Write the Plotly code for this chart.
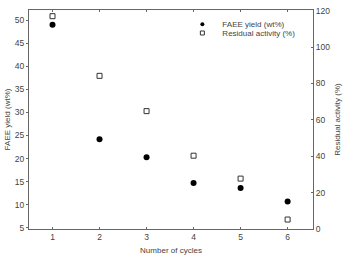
import plotly.graph_objects as go

cycles = [1, 2, 3, 4, 5, 6]
faee_yield = [49.0, 24.2, 20.3, 14.7, 13.6, 10.7]
residual_activity = [117.0, 84.2, 64.8, 40.3, 27.7, 5.2]

FAM = "Liberation Sans, Arial, sans-serif"
tickfont = dict(family=FAM, size=8.5, color="#444")
titlefont = dict(family=FAM, size=8, color="#444")
legfont = dict(family=FAM, size=8, color="#444")

fig = go.Figure()
fig.add_trace(go.Scatter(
    x=cycles, y=faee_yield, mode="markers", name="FAEE yield (wt%)",
    showlegend=False,
    marker=dict(symbol="circle", size=6, color="black"),
))
fig.add_trace(go.Scatter(
    x=cycles, y=residual_activity, mode="markers", name="Residual activity (%)",
    yaxis="y2", showlegend=False,
    marker=dict(symbol="square-open", size=5, color="#333", line=dict(width=1)),
))
# legend entries (small symbols as in the reference)
fig.add_trace(go.Scatter(
    x=[None], y=[None], mode="markers", name="FAEE yield (wt%)",
    legend="legend", marker=dict(symbol="circle", size=4, color="black"),
))
fig.add_trace(go.Scatter(
    x=[None], y=[None], mode="markers", name="Residual activity (%)",
    legend="legend2",
    marker=dict(symbol="square-open", size=4, color="#333", line=dict(width=1)),
))

axcommon = dict(showgrid=False, zeroline=False, showline=True, linecolor="#666",
                linewidth=1, ticklen=2, tickcolor="#666", tickfont=tickfont)

legcommon = dict(xanchor="left", yanchor="middle", bgcolor="rgba(0,0,0,0)",
                 font=legfont, itemwidth=30)

fig.update_layout(
    width=347, height=255,
    margin=dict(l=29, r=34, t=6, b=26),
    paper_bgcolor="white", plot_bgcolor="white",
    font=tickfont,
    showlegend=True,
    legend=dict(x=0.54, y=0.935, **legcommon),
    legend2=dict(x=0.54, y=0.895, **legcommon),
    xaxis=dict(range=[0.5, 6.54], tickvals=cycles, mirror="ticks", ticks="inside",
               automargin=False,
               title=dict(text="Number of cycles", font=titlefont, standoff=7),
               **axcommon),
    yaxis=dict(range=[4.72, 52.2], tickvals=[5, 10, 15, 20, 25, 30, 35, 40, 45, 50],
               ticks="outside",
               title=dict(text="FAEE yield (wt%)", font=titlefont, standoff=3),
               **axcommon),
    yaxis2=dict(range=[0, 120.4], tickvals=[0, 20, 40, 60, 80, 100, 120],
                overlaying="y", side="right", ticks="inside",
                title=dict(text="Residual activity (%)", font=titlefont, standoff=5),
                **axcommon),
)

fig.write_html("out.html")
